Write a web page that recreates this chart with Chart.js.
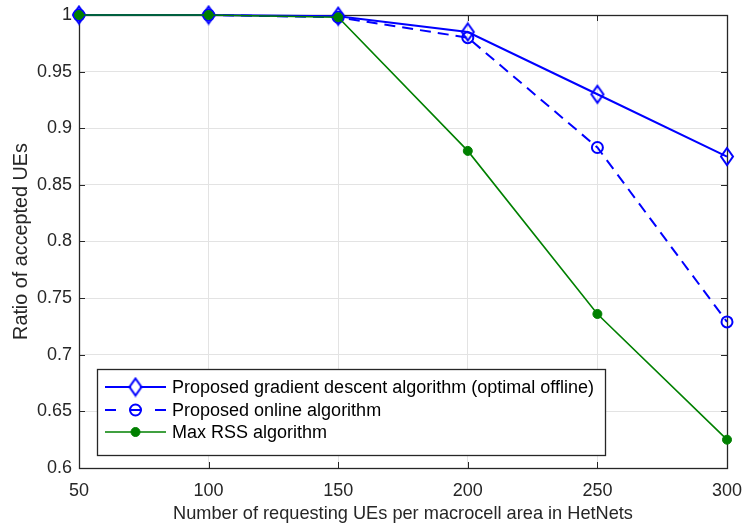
<!DOCTYPE html>
<html>
<head>
<meta charset="utf-8">
<script src="https://cdn.jsdelivr.net/npm/chart.js@4.4.1/dist/chart.umd.min.js"></script>
<style>
  html, body { margin: 0; padding: 0; background: #ffffff; }
  #wrap { width: 744px; height: 528px; position: relative; }
</style>
</head>
<body>
<div id="wrap"><canvas id="c" width="744" height="528"></canvas></div>
<script>
// Number of requesting UEs per macrocell area
const ueCounts = [50, 100, 150, 200, 250, 300];
// Ratio of accepted UEs for each scheme
const gradientOffline = [1.0, 1.0, 0.999, 0.985, 0.930, 0.875];
const onlineAlg = [1.0, 1.0, 0.998, 0.980, 0.883, 0.729];
const maxRss = [1.0, 1.0, 0.998, 0.880, 0.736, 0.625];

const seriesNames = [
  'Proposed gradient descent algorithm (optimal offline)',
  'Proposed online algorithm',
  'Max RSS algorithm'
];
const xTicks = [50, 100, 150, 200, 250, 300];
const yTicks = [0.6, 0.65, 0.7, 0.75, 0.8, 0.85, 0.9, 0.95, 1];
const yTickLabels = ['0.6', '0.65', '0.7', '0.75', '0.8', '0.85', '0.9', '0.95', '1'];

const FONT = 'Liberation Sans, Arial, Helvetica, sans-serif';
const TICK_SIZE = 18;
const BLUE = '#0000ff';
const GREEN = '#008000';

// Tall, narrow open diamond marker
function diamondMarker(w, h, color) {
  const c = document.createElement('canvas');
  c.width = w + 4; c.height = h + 4;
  const g = c.getContext('2d');
  const cx = c.width / 2, cy = c.height / 2;
  g.strokeStyle = color; g.lineWidth = 2;
  g.beginPath();
  g.moveTo(cx, cy - h / 2);
  g.lineTo(cx + w / 2, cy);
  g.lineTo(cx, cy + h / 2);
  g.lineTo(cx - w / 2, cy);
  g.closePath();
  g.stroke();
  return c;
}
const diamondImg = diamondMarker(12, 17, BLUE);

function pts(values) {
  return ueCounts.map((x, i) => ({ x: x, y: values[i] }));
}

function noOverflow(s) {
  s.paddingLeft = 0; s.paddingRight = 0;
  s.paddingTop = 0; s.paddingBottom = 0;
}

// Box, inward ticks on all four sides
const boxPlugin = {
  id: 'boxTicks',
  beforeDatasetsDraw(chart) {
    const { ctx, chartArea: a, scales } = chart;
    ctx.save();
    ctx.strokeStyle = '#262626';
    ctx.lineWidth = 1;
    const len = 6;
    ctx.beginPath();
    xTicks.forEach(v => {
      const px = Math.round(scales.x.getPixelForValue(v)) + 0.5;
      ctx.moveTo(px, a.bottom); ctx.lineTo(px, a.bottom - len);
      ctx.moveTo(px, a.top); ctx.lineTo(px, a.top + len);
    });
    yTicks.forEach(v => {
      const py = Math.round(scales.y.getPixelForValue(v)) + 0.5;
      ctx.moveTo(a.left, py); ctx.lineTo(a.left + len, py);
      ctx.moveTo(a.right, py); ctx.lineTo(a.right - len, py);
    });
    ctx.stroke();
    ctx.lineWidth = 1.3;
    ctx.strokeRect(Math.round(a.left) + 0.5, Math.round(a.top) + 0.5,
      Math.round(a.right - a.left), Math.round(a.bottom - a.top));
    ctx.restore();
  }
};

// Legend box inside the plot, lower left
const legendPlugin = {
  id: 'innerLegend',
  afterDraw(chart) {
    const { ctx } = chart;
    const bx = 97.5, by = 369.5, bw = 508, bh = 86;
    ctx.save();
    ctx.fillStyle = '#ffffff';
    ctx.fillRect(bx, by, bw, bh);
    ctx.strokeStyle = '#262626';
    ctx.lineWidth = 1.3;
    ctx.strokeRect(bx, by, bw, bh);
    const rows = [387, 410, 432];
    chart.data.datasets.forEach((ds, i) => {
      const y = rows[i];
      const x0 = 105, x1 = 166, xm = (x0 + x1) / 2;
      ctx.strokeStyle = ds.borderColor;
      ctx.lineWidth = ds.borderWidth;
      ctx.beginPath();
      if (ds.borderDash && ds.borderDash.length) {
        ctx.moveTo(x0, y); ctx.lineTo(x0 + 11, y);
        ctx.moveTo(xm - 6, y); ctx.lineTo(xm + 6, y);
        ctx.moveTo(x1 - 11, y); ctx.lineTo(x1, y);
      } else {
        ctx.moveTo(x0, y); ctx.lineTo(x1, y);
      }
      ctx.stroke();
      if (ds.pointStyle instanceof HTMLCanvasElement) {
        const im = ds.pointStyle;
        ctx.fillStyle = '#ffffff';
        ctx.beginPath();
        ctx.moveTo(xm, y - 7); ctx.lineTo(xm + 5, y); ctx.lineTo(xm, y + 7); ctx.lineTo(xm - 5, y);
        ctx.closePath(); ctx.fill();
        ctx.drawImage(im, xm - im.width / 2, y - im.height / 2);
      } else {
        ctx.beginPath();
        ctx.arc(xm, y, ds.pointRadius, 0, Math.PI * 2);
        if (ds.pointBackgroundColor !== 'rgba(0,0,0,0)') {
          ctx.fillStyle = ds.pointBackgroundColor; ctx.fill();
        }
        ctx.strokeStyle = ds.pointBorderColor;
        ctx.lineWidth = ds.pointBorderWidth;
        ctx.stroke();
      }
      ctx.fillStyle = '#000000';
      ctx.font = TICK_SIZE + 'px ' + FONT;
      ctx.textBaseline = 'middle';
      ctx.textAlign = 'left';
      ctx.fillText(seriesNames[i], 172, y + 1);
    });
    ctx.restore();
  }
};

new Chart(document.getElementById('c'), {
  type: 'line',
  data: {
    datasets: [
      {
        label: seriesNames[0],
        data: pts(gradientOffline),
        borderColor: BLUE,
        borderWidth: 2,
        pointStyle: diamondImg,
        pointRadius: 8,
        fill: false,
        clip: false,
        order: 1
      },
      {
        label: seriesNames[1],
        data: pts(onlineAlg),
        borderColor: BLUE,
        borderWidth: 2,
        borderDash: [11, 7],
        pointStyle: 'circle',
        pointRadius: 5.5,
        pointBorderWidth: 2,
        pointBorderColor: BLUE,
        pointBackgroundColor: 'rgba(0,0,0,0)',
        fill: false,
        clip: false,
        order: 2
      },
      {
        label: seriesNames[2],
        data: pts(maxRss),
        borderColor: GREEN,
        borderWidth: 1.6,
        pointStyle: 'circle',
        pointRadius: 4.5,
        pointBorderWidth: 1,
        pointBorderColor: GREEN,
        pointBackgroundColor: GREEN,
        fill: false,
        clip: false,
        order: 0
      }
    ]
  },
  options: {
    responsive: false,
    animation: false,
    devicePixelRatio: 1,
    layout: { padding: { left: 0, right: 17, top: 15, bottom: 0 } },
    plugins: {
      legend: { display: false },
      tooltip: { enabled: false }
    },
    elements: { line: { tension: 0 } },
    scales: {
      x: {
        type: 'linear',
        min: 50, max: 300,
        afterBuildTicks(s) { s.ticks = xTicks.map(v => ({ value: v })); },
        afterFit(s) { s.height = 60; noOverflow(s); },
        grid: { color: '#e3e3e3', lineWidth: 1, drawTicks: false },
        border: { display: false },
        ticks: {
          color: '#262626',
          font: { family: FONT, size: TICK_SIZE },
          padding: 12,
          maxRotation: 0,
          callback: v => String(v)
        },
        title: {
          display: true,
          text: 'Number of requesting UEs per macrocell area in HetNets',
          color: '#262626',
          font: { family: FONT, size: 18.2 },
          padding: { top: 0, bottom: 3 }
        }
      },
      y: {
        type: 'linear',
        min: 0.6, max: 1,
        afterBuildTicks(s) { s.ticks = yTicks.map(v => ({ value: v })); },
        afterFit(s) { s.width = 79; noOverflow(s); },
        grid: { color: '#e3e3e3', lineWidth: 1, drawTicks: false },
        border: { display: false },
        ticks: {
          color: '#262626',
          font: { family: FONT, size: TICK_SIZE },
          padding: 7,
          callback: v => yTickLabels[yTicks.findIndex(t => Math.abs(t - v) < 1e-9)]
        },
        title: {
          display: true,
          text: 'Ratio of accepted UEs',
          color: '#262626',
          font: { family: FONT, size: 19.8 },
          padding: { top: 10, bottom: 0 }
        }
      }
    }
  },
  plugins: [boxPlugin, legendPlugin]
});
</script>
</body>
</html>
